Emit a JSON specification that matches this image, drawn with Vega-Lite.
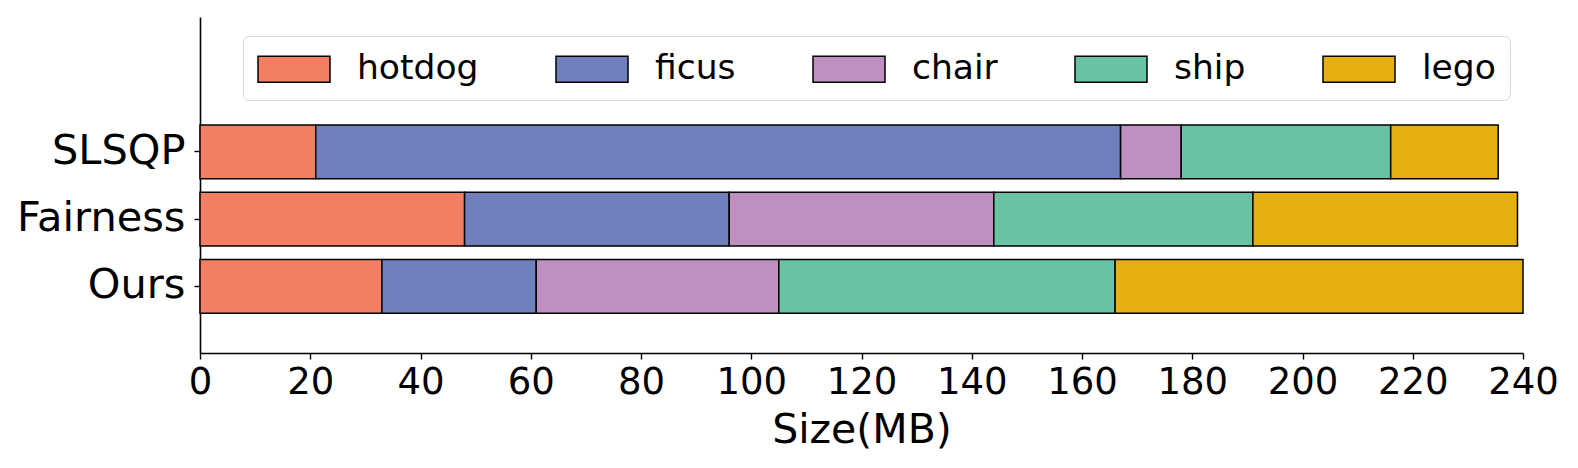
{
  "$schema": "https://vega.github.io/schema/vega-lite/v6.json",
  "autosize": {"type": "none"},
  "padding": {"left": 200, "top": 17, "right": 55, "bottom": 115},
  "width": 1323,
  "height": 336,
  "background": "white",
  "config": {
    "font": "DejaVu Sans",
    "view": {"stroke": null},
    "axis": {"grid": false, "domainColor": "black", "domainWidth": 1.6, "tickColor": "black", "tickWidth": 1.4, "tickSize": 6, "labelColor": "black", "titleColor": "black", "labelFont": "DejaVu Sans", "titleFont": "DejaVu Sans"}
  },
  "data": {
    "values": [
      {"method": "SLSQP", "dataset": "hotdog", "rank": 1, "size": 21},
      {"method": "SLSQP", "dataset": "ficus", "rank": 2, "size": 146},
      {"method": "SLSQP", "dataset": "chair", "rank": 3, "size": 11},
      {"method": "SLSQP", "dataset": "ship", "rank": 4, "size": 38},
      {"method": "SLSQP", "dataset": "lego", "rank": 5, "size": 19.5},
      {"method": "Fairness", "dataset": "hotdog", "rank": 1, "size": 48},
      {"method": "Fairness", "dataset": "ficus", "rank": 2, "size": 48},
      {"method": "Fairness", "dataset": "chair", "rank": 3, "size": 48},
      {"method": "Fairness", "dataset": "ship", "rank": 4, "size": 47},
      {"method": "Fairness", "dataset": "lego", "rank": 5, "size": 48},
      {"method": "Ours", "dataset": "hotdog", "rank": 1, "size": 33},
      {"method": "Ours", "dataset": "ficus", "rank": 2, "size": 28},
      {"method": "Ours", "dataset": "chair", "rank": 3, "size": 44},
      {"method": "Ours", "dataset": "ship", "rank": 4, "size": 61},
      {"method": "Ours", "dataset": "lego", "rank": 5, "size": 74}
    ]
  },
  "mark": {"type": "bar", "stroke": "black", "strokeWidth": 1.5, "opacity": 1, "height": {"band": 0.8}},
  "encoding": {
    "y": {
      "field": "method",
      "type": "nominal",
      "sort": ["SLSQP", "Fairness", "Ours"],
      "scale": {"domain": ["SLSQP", "Fairness", "Ours"], "paddingInner": 0, "paddingOuter": 1, "align": 0.754, "round": false},
      "axis": {"title": null, "labelFontSize": 41.5, "labelPadding": 9, "ticks": true}
    },
    "x": {
      "field": "size",
      "type": "quantitative",
      "stack": "zero",
      "scale": {"domain": [0, 240], "nice": false, "zero": true},
      "axis": {"title": "Size(MB)", "values": [0, 20, 40, 60, 80, 100, 120, 140, 160, 180, 200, 220, 240], "labelFontSize": 37, "labelPadding": 5, "labelFlush": false, "titleFontSize": 41, "titleFontWeight": "normal", "titlePadding": 10}
    },
    "color": {
      "field": "dataset",
      "type": "nominal",
      "sort": ["hotdog", "ficus", "chair", "ship", "lego"],
      "scale": {"domain": ["hotdog", "ficus", "chair", "ship", "lego"], "range": ["#F37F63", "#6F80BD", "#BE8FC1", "#67C3A4", "#E5AF0D"]},
      "legend": {
        "title": null,
        "orient": "none",
        "direction": "horizontal",
        "legendX": 43,
        "legendY": 19,
        "padding": 14,
        "strokeColor": "#d6d6d6",
        "fillColor": "white",
        "cornerRadius": 6,
        "symbolType": "M-1,-0.72H3V0.72H-1Z",
        "symbolSize": 1296,
        "symbolStrokeColor": "black",
        "symbolStrokeWidth": 1.5,
        "symbolOpacity": 1,
        "labelFontSize": 34.5,
        "labelFont": "DejaVu Sans",
        "labelColor": "black",
        "labelOffset": 62,
        "columnPadding": 74
      }
    },
    "order": {"field": "rank", "type": "quantitative", "sort": "ascending"}
  }
}
